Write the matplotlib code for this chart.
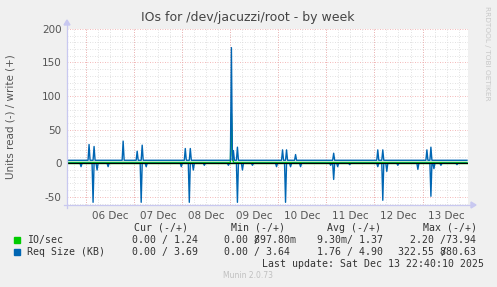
import numpy as np
import matplotlib
matplotlib.use("Agg")
import matplotlib.pyplot as plt
from matplotlib.patches import Rectangle, Polygon

# ---------------- data (30-minute samples, 400 samples, start Dec 5 14:40) ----------------
n_samples = 400
step_hours = 0.5
first_midnight_hours = 9.333  # Dec 6 00:00 relative to start

day_labels = ["06 Dec", "07 Dec", "08 Dec", "09 Dec", "10 Dec", "11 Dec", "12 Dec", "13 Dec"]

# IO/sec
io_write_base = 1.3
io_read_base = 0.0
io_write_spike_idx = [164, 165]
io_write_spike_val = [74.0, 12.0]

# Req Size (KB)
req_write_base = 4.5
req_read_base = 0.0
req_write_spike_idx = [22, 27, 56, 70, 75, 118, 123, 164, 166, 170, 215, 219, 228, 266, 310, 315, 359, 363]
req_write_spike_val = [28, 25, 33, 18, 27, 22, 22, 172, 19, 24, 20, 20, 13, 15, 20, 20, 20, 24]
req_read_spike_idx = [14, 26, 30, 41, 74, 79, 114, 122, 126, 137, 161, 170, 175, 185,
                      209, 218, 223, 233, 263, 266, 270, 282, 310, 315, 319, 330, 350, 363, 366, 373, 389]
req_read_spike_val = [5, 58, 10, 5, 58, 5, 5, 58, 10, 3, 3, 58, 10, 3,
                      5, 58, 5, 5, 3, 24, 5, 2, 5, 55, 12, 3, 9, 49, 8, 3, 2]

y_ticks = [-50, 0, 50, 100, 150, 200]

legend_names = ["IO/sec", "Req Size (KB)"]
legend_cur = ["0.00 / 1.24", "0.00 / 3.69"]
legend_min = ["0.00 897.80m", "0.00 / 3.64"]
legend_avg = ["9.30m/ 1.37", "1.76 / 4.90"]
legend_max = ["2.20 /73.94", "322.55 880.63"]
# ---------------------------------------------------------------------------------------

io_write = np.full(n_samples, io_write_base)
io_write[io_write_spike_idx] = io_write_spike_val
io_read = np.full(n_samples, io_read_base)
req_write = np.full(n_samples, req_write_base)
req_write[req_write_spike_idx] = req_write_spike_val
req_read = np.full(n_samples, req_read_base)
req_read[req_read_spike_idx] = req_read_spike_val
t = np.arange(n_samples) * step_hours

W, H = 497, 287
fig = plt.figure(figsize=(W / 100, H / 100), dpi=100)
fig.patch.set_facecolor("#F0F0F0")

px_left, px_right, px_top, px_bottom = 67, 468, 28.8, 205
ax = fig.add_axes([px_left / W, 1 - px_bottom / H, (px_right - px_left) / W, (px_bottom - px_top) / H])
ax.set_facecolor("white")
ax.set_xlim(0, 200)
ax.set_ylim(-62, 200)

# grid
minor_col = "#D8D8D8"
major_col = "#F0A0A0"
for yv in range(-60, 201, 10):
    if yv % 50 != 0:
        ax.axhline(yv, color=minor_col, lw=0.6, ls=(0, (1, 2)), zorder=1)
for yv in y_ticks:
    ax.axhline(yv, color=major_col, lw=0.6, ls=(0, (1, 2)), zorder=1)
h = first_midnight_hours - 6
while h < 200:
    if h > 0:
        ax.axvline(h, color=minor_col, lw=0.6, ls=(0, (1, 2)), zorder=1)
    h += 6
for d in range(len(day_labels)):
    ax.axvline(first_midnight_hours + 24 * d, color=major_col, lw=0.6, ls=(0, (1, 2)), zorder=1)

# data
green = "#00CC00"
blue = "#0066B3"
ax.plot(t, io_write, color=green, lw=1.0, zorder=3)
ax.plot(t, -io_read, color=green, lw=1.0, zorder=3)
ax.plot(t, req_write, color=blue, lw=1.0, zorder=4)
ax.plot(t, -req_read, color=blue, lw=1.0, zorder=4)
ax.axhline(0, color="black", lw=0.8, zorder=5)

for s in ax.spines.values():
    s.set_visible(False)
ax.tick_params(length=0, labelsize=7.5, colors="#555555", pad=4)
ax.set_yticks(y_ticks)
ax.set_yticklabels([str(v) for v in y_ticks])
ax.set_xticks([first_midnight_hours + 12 + 24 * d for d in range(len(day_labels))])
ax.set_xticklabels(day_labels)

# axis lines with arrows (in pixel coordinates of figure)
axis_col = "#C8C8F0"
def fx(px): return px / W
def fy(py): return 1 - py / H
fig.add_artist(plt.Line2D([fx(px_left), fx(px_left)], [fy(px_bottom + 3), fy(24)], color=axis_col, lw=0.9))
fig.add_artist(plt.Line2D([fx(px_left - 3), fx(px_right + 4)], [fy(px_bottom), fy(px_bottom)], color=axis_col, lw=0.9))
fig.add_artist(Polygon([[fx(px_left - 3), fy(25)], [fx(px_left + 3), fy(25)], [fx(px_left), fy(20)]],
                       closed=True, color=axis_col))
fig.add_artist(Polygon([[fx(px_right + 3), fy(px_bottom - 3)], [fx(px_right + 3), fy(px_bottom + 3)],
                        [fx(px_right + 8), fy(px_bottom)]], closed=True, color=axis_col))

# title and labels
fig.text(fx(248), fy(18), "IOs for /dev/jacuzzi/root - by week", ha="center", va="center",
         fontsize=9.0, color="#444444")
fig.text(fx(11), fy(117), "Units read (-) / write (+)", rotation=90, ha="center", va="center",
         fontsize=7.5, color="#555555")
fig.text(fx(487), fy(53), "RRDTOOL / TOBI OETIKER", rotation=270, ha="center", va="center",
         fontsize=5.3, color="#C8C8C8")

# legend
mono = dict(family="DejaVu Sans Mono", fontsize=7.1, color="#333333", va="center", ha="left")
cw = 5.96
row_y = [239.7, 251.7]
fig.text(fx(134.3), fy(227.7), "Cur (-/+)", **mono)
fig.text(fx(231), fy(227.7), "Min (-/+)", **mono)
fig.text(fx(327.3), fy(227.7), "Avg (-/+)", **mono)
fig.text(fx(422.7), fy(227.7), "Max (-/+)", **mono)
cols = [green, blue]
col_x = [[131.7, 224, 316.7, 410], [131.7, 224, 316.7, 398.3]]
for i, name in enumerate(legend_names):
    y = row_y[i]
    fig.add_artist(Rectangle((fx(14), fy(y + 3)), 6 / W, 6 / H, color=cols[i]))
    fig.text(fx(26.7), fy(y), name, **mono)
    for j, txt in enumerate([legend_cur[i], legend_min[i], legend_avg[i], legend_max[i]]):
        fig.text(fx(col_x[i][j]), fy(y), txt, **mono)
# overlapping slashes (value text wider than the column, as in the original)
fig.text(fx(224 + 5 * cw), fy(row_y[0]), "/", **mono)
fig.text(fx(398.3 + 7 * cw), fy(row_y[1]), "/", **mono)

fig.text(fx(261.7), fy(263.7), "Last update: Sat Dec 13 22:40:10 2025", **mono)
fig.text(fx(248), fy(276), "Munin 2.0.73", ha="center", va="center", fontsize=5.5, color="#C0C0C0")

fig.savefig("out.png", dpi=100, facecolor=fig.get_facecolor())
